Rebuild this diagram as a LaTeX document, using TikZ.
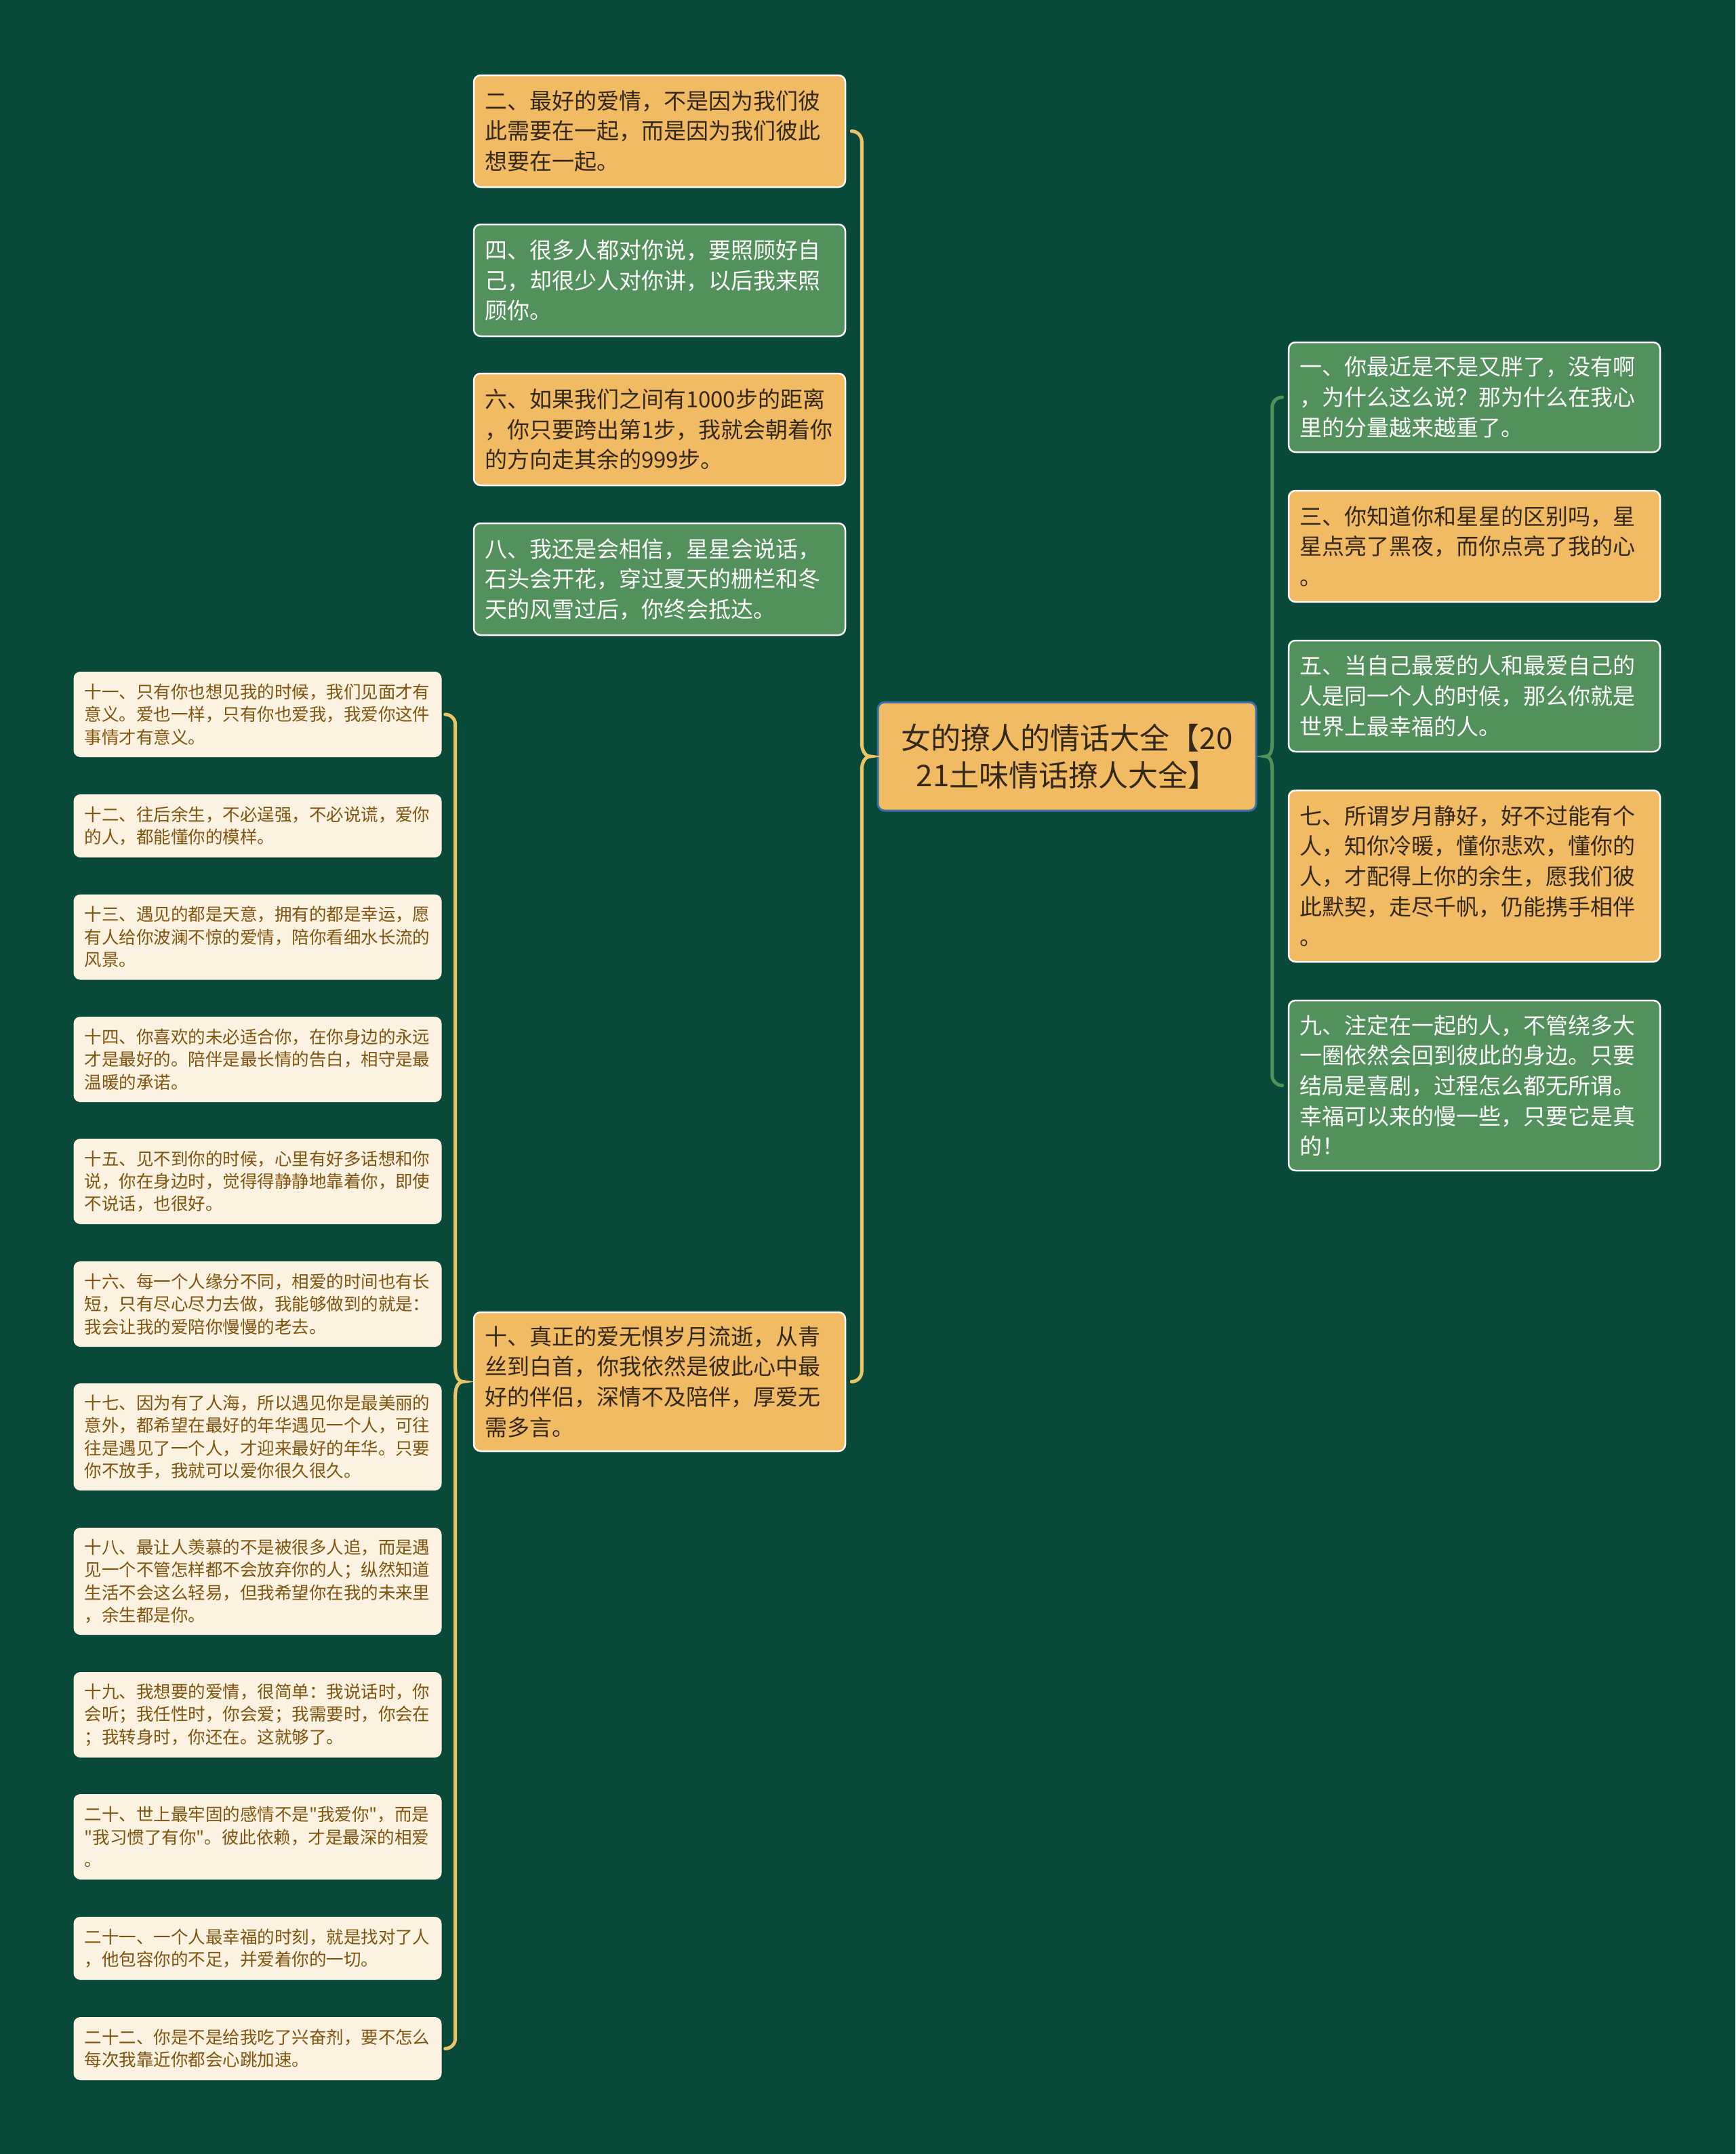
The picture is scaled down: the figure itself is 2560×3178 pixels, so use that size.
\documentclass[tikz,border=0pt]{standalone}
\usepackage{fontspec}
\usepackage{tikz}
\newfontfamily\cjk{Noto Sans CJK SC}
\setlength{\parindent}{0pt}

\definecolor{bggreen}{RGB}{8,73,57}
\definecolor{boxorange}{RGB}{240,187,98}
\definecolor{boxgreen}{RGB}{82,145,92}
\definecolor{boxcream}{RGB}{252,242,226}
\definecolor{textbrown}{RGB}{128,84,14}
\definecolor{textdark}{RGB}{52,40,26}
\definecolor{braceyellow}{RGB}{236,196,104}
\definecolor{rootblue}{RGB}{58,112,172}

\begin{document}
\begin{tikzpicture}[x=1pt,y=-1pt,
  box/.style={rectangle,rounded corners=10pt,align=left,inner xsep=16pt,inner ysep=6pt},
  bigbox/.style={box,text width=516pt,minimum height=165pt,line width=2.5pt,draw=white,
    font=\cjk\fontsize{33}{44.6}\selectfont},
  orangebox/.style={bigbox,fill=boxorange,text=textdark},
  greenbox/.style={bigbox,fill=boxgreen,text=white},
  creambox/.style={box,text width=511pt,minimum height=126pt,fill=boxcream,text=textbrown,
    font=\cjk\fontsize{25.5}{33.4}\selectfont},
  rootbox/.style={rectangle,rounded corners=10pt,draw=rootblue,line width=3pt,fill=boxorange,
    text=textdark,align=center,text width=526pt,inner xsep=16pt,minimum height=160pt,
    font=\cjk\fontsize{44}{55}\selectfont},
  ybrace/.style={draw=braceyellow,line width=5pt,line cap=round},
  gbrace/.style={draw=boxgreen,line width=5pt,line cap=round}]

% Background
\fill[bggreen] (0,0) rectangle (2560,3178);
\useasboundingbox (0,0) rectangle (2560,3178);

% Root
\node[rootbox] (root) at (1574,1116) {女的撩人的情话大全【20\\21土味情话撩人大全】};

% Upper left branch
\node[orangebox] (b2) at (973,193.5) {二、最好的爱情，不是因为我们彼\\此需要在一起，而是因为我们彼此\\想要在一起。};
\node[greenbox] (b4) at (973,413.5) {四、很多人都对你说，要照顾好自\\己，却很少人对你讲，以后我来照\\顾你。};
\node[orangebox] (b6) at (973,633.5) {六、如果我们之间有1000步的距离\\，你只要跨出第1步，我就会朝着你\\的方向走其余的999步。};
\node[greenbox] (b8) at (973,854.5) {八、我还是会相信，星星会说话，\\石头会开花，穿过夏天的栅栏和冬\\天的风雪过后，你终会抵达。};
\node[orangebox,minimum height=205pt] (b10) at (973,2038.5) {十、真正的爱无惧岁月流逝，从青\\丝到白首，你我依然是彼此心中最\\好的伴侣，深情不及陪伴，厚爱无\\需多言。};

% Right branch
\node[greenbox,minimum height=162pt] (b1) at (2175,586) {一、你最近是不是又胖了，没有啊\\，为什么这么说？那为什么在我心\\里的分量越来越重了。};
\node[orangebox,minimum height=164pt] (b3) at (2175,806) {三、你知道你和星星的区别吗，星\\星点亮了黑夜，而你点亮了我的心\\。};
\node[greenbox,minimum height=164pt] (b5) at (2175,1027) {五、当自己最爱的人和最爱自己的\\人是同一个人的时候，那么你就是\\世界上最幸福的人。};
\node[orangebox,minimum height=253pt] (b7) at (2175,1292.5) {七、所谓岁月静好，好不过能有个\\人，知你冷暖，懂你悲欢，懂你的\\人，才配得上你的余生，愿我们彼\\此默契，走尽千帆，仍能携手相伴\\。};
\node[greenbox,minimum height=251pt] (b9) at (2175,1601.5) {九、注定在一起的人，不管绕多大\\一圈依然会回到彼此的身边。只要\\结局是喜剧，过程怎么都无所谓。\\幸福可以来的慢一些，只要它是真\\的！};

% Children of ten
\node[creambox] (c11) at (380,1054) {十一、只有你也想见我的时候，我们见面才有\\意义。爱也一样，只有你也爱我，我爱你这件\\事情才有意义。};
\node[creambox,minimum height=93pt] (c12) at (380,1218.5) {十二、往后余生，不必逞强，不必说谎，爱你\\的人，都能懂你的模样。};
\node[creambox] (c13) at (380,1382.5) {十三、遇见的都是天意，拥有的都是幸运，愿\\有人给你波澜不惊的爱情，陪你看细水长流的\\风景。};
\node[creambox] (c14) at (380,1563) {十四、你喜欢的未必适合你，在你身边的永远\\才是最好的。陪伴是最长情的告白，相守是最\\温暖的承诺。};
\node[creambox] (c15) at (380,1743) {十五、见不到你的时候，心里有好多话想和你\\说，你在身边时，觉得得静静地靠着你，即使\\不说话，也很好。};
\node[creambox] (c16) at (380,1924) {十六、每一个人缘分不同，相爱的时间也有长\\短，只有尽心尽力去做，我能够做到的就是：\\我会让我的爱陪你慢慢的老去。};
\node[creambox,minimum height=158pt] (c17) at (380,2120) {十七、因为有了人海，所以遇见你是最美丽的\\意外，都希望在最好的年华遇见一个人，可往\\往是遇见了一个人，才迎来最好的年华。只要\\你不放手，我就可以爱你很久很久。};
\node[creambox,minimum height=158pt] (c18) at (380,2333) {十八、最让人羡慕的不是被很多人追，而是遇\\见一个不管怎样都不会放弃你的人；纵然知道\\生活不会这么轻易，但我希望你在我的未来里\\，余生都是你。};
\node[creambox] (c19) at (380,2530) {十九、我想要的爱情，很简单：我说话时，你\\会听；我任性时，你会爱；我需要时，你会在\\；我转身时，你还在。这就够了。};
\node[creambox] (c20) at (380,2710) {二十、世上最牢固的感情不是"我爱你"，而是\\"我习惯了有你"。彼此依赖，才是最深的相爱\\。};
\node[creambox,minimum height=93pt] (c21) at (380,2874.5) {二十一、一个人最幸福的时刻，就是找对了人\\，他包容你的不足，并爱着你的一切。};
\node[creambox,minimum height=93pt] (c22) at (380,3022.5) {二十二、你是不是给我吃了兴奋剂，要不怎么\\每次我靠近你都会心跳加速。};

% Left brace
\coordinate (lv) at ([xshift=23pt]b2.east);
\draw[ybrace] ([xshift=8pt]b2.east) arc[start angle=90,end angle=0,radius=15pt]
  -- ([yshift=20pt]lv |- root.west) to[out=-90,in=180] ([xshift=-9pt]root.west)
  to[out=180,in=90] ([yshift=-20pt]lv |- root.west)
  -- ([yshift=15pt]lv |- b10.east) arc[start angle=0,end angle=-90,radius=15pt];

% Right brace
\coordinate (rv) at ([xshift=-23pt]b1.west);
\draw[gbrace] ([xshift=-8pt]b1.west) arc[start angle=90,end angle=180,radius=15pt]
  -- ([yshift=20pt]rv |- root.east) to[out=-90,in=0] ([xshift=12pt]root.east)
  to[out=0,in=90] ([yshift=-20pt]rv |- root.east)
  -- ([yshift=15pt]rv |- b9.west) arc[start angle=180,end angle=270,radius=15pt];

% Brace of ten
\coordinate (cv) at ([xshift=20pt]c11.east);
\draw[ybrace] ([xshift=5pt]c11.east) arc[start angle=90,end angle=0,radius=15pt]
  -- ([yshift=20pt]cv |- b10.west) to[out=-90,in=180] ([xshift=-14pt]b10.west)
  to[out=180,in=90] ([yshift=-20pt]cv |- b10.west)
  -- ([yshift=15pt]cv |- c22.east) arc[start angle=0,end angle=-90,radius=15pt];
\end{tikzpicture}
\end{document}
